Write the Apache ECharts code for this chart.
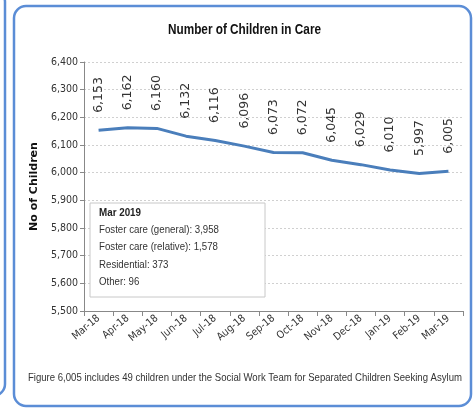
<!DOCTYPE html>
<html>
<head>
<meta charset="utf-8">
<script src="https://cdn.jsdelivr.net/npm/echarts@6/dist/echarts.min.js"></script>
<style>
html,body{margin:0;padding:0;background:#fff;}
#c{width:474px;height:411px;}
</style>
</head>
<body>
<div id="c"></div>
<script>
var titleText = 'Number of Children in Care';
var yAxisName = 'No of Children';
var months = ['Mar-18','Apr-18','May-18','Jun-18','Jul-18','Aug-18','Sep-18','Oct-18','Nov-18','Dec-18','Jan-19','Feb-19','Mar-19'];
var children = [6153, 6162, 6160, 6132, 6116, 6096, 6073, 6072, 6045, 6029, 6010, 5997, 6005];
var noteTitle = 'Mar 2019';
var noteLines = ['Foster care (general): 3,958', 'Foster care (relative): 1,578', 'Residential: 373', 'Other: 96'];
var footnote = 'Figure 6,005 includes 49 children under the Social Work Team for Separated Children Seeking Asylum';

var sans = '"DejaVu Sans Condensed", "Liberation Sans", Arial, sans-serif';
var lib = '"Liberation Sans", Arial, sans-serif';
function fmt(v){ return String(v).replace(/\B(?=(\d{3})+(?!\d))/g, ','); }

var ctx = document.createElement('canvas').getContext('2d');
function fitScale(text, font, target){ ctx.font = font; return target / ctx.measureText(text).width; }

var chart = echarts.init(document.getElementById('c'), null, {renderer:'canvas'});

var titleFont = 'bold 14px ' + lib;
var noteFont = '11px ' + lib;
var noteBold = 'bold 11px ' + lib;
var footFont = '11px ' + lib;
var sTitle = fitScale(titleText, titleFont, 153);
var sNote = fitScale(noteLines[0], noteFont, 120);
var sNoteB = fitScale(noteTitle, noteBold, 42);
var sFoot = fitScale(footnote, footFont, 434);

var graphics = [
  {type:'rect', shape:{x:14, y:6, width:457, height:400, r:12}, style:{fill:'none', stroke:'#5b8dd6', lineWidth:2.5}, silent:true},
  {type:'rect', shape:{x:-20, y:-10, width:25, height:406, r:12}, style:{fill:'none', stroke:'#5b8dd6', lineWidth:2.5}, silent:true},
  {type:'text', x:244.5, y:23, scaleX:sTitle, style:{text:titleText, font:titleFont, fill:'#111', align:'center'}},
  {type:'rect', shape:{x:90, y:203, width:175, height:94}, style:{fill:'#fff', stroke:'#c8c8c8', lineWidth:1}, z:10},
  {type:'text', x:99, y:207, z:11, scaleX:sNoteB, style:{text:noteTitle, font:noteBold, fill:'#222'}}
];
noteLines.forEach(function(t, i){
  graphics.push({type:'text', x:99, y:224 + i*17.5, z:11, scaleX:sNote, style:{text:t, font:noteFont, fill:'#333'}});
});
graphics.push({type:'text', x:245, y:372, z:11, scaleX:sFoot, style:{text:footnote, font:footFont, fill:'#333', align:'center'}});

chart.setOption({
  animation:false,
  grid:{left:84, right:11, top:62, bottom:100, containLabel:false},
  xAxis:{type:'category', data:months, boundaryGap:true,
    axisLine:{lineStyle:{color:'#888', width:1}},
    axisTick:{show:true, length:5, lineStyle:{color:'#888'}},
    axisLabel:{rotate:40, fontFamily:sans, fontSize:10.5, color:'#333', margin:6, interval:0}},
  yAxis:{type:'value', min:5500, max:6400, interval:100,
    name:yAxisName, nameLocation:'middle', nameGap:33, nameRotate:90,
    nameTextStyle:{fontFamily:'"DejaVu Sans", Verdana, sans-serif', fontWeight:'bold', fontSize:11, color:'#111'},
    axisLine:{show:true, lineStyle:{color:'#888'}},
    axisTick:{show:true, length:4, lineStyle:{color:'#888'}},
    axisLabel:{fontFamily:sans, fontSize:10.5, color:'#333', margin:6, formatter:function(v){return fmt(v);}},
    splitLine:{lineStyle:{color:'#d0d0d0', type:[2,2]}}},
  series:[{type:'line', data:children, symbol:'circle', symbolSize:1, showSymbol:true,
    itemStyle:{color:'rgba(0,0,0,0)'},
    lineStyle:{color:'#4a7ebb', width:3},
    label:{show:true, position:'top', distance:17, rotate:90, align:'left', verticalAlign:'middle',
      fontFamily:'"DejaVu Sans", Verdana, sans-serif', fontSize:12.5, color:'#333',
      formatter:function(p){return fmt(p.value);}}}],
  graphic:graphics
});
</script>
</body>
</html>
